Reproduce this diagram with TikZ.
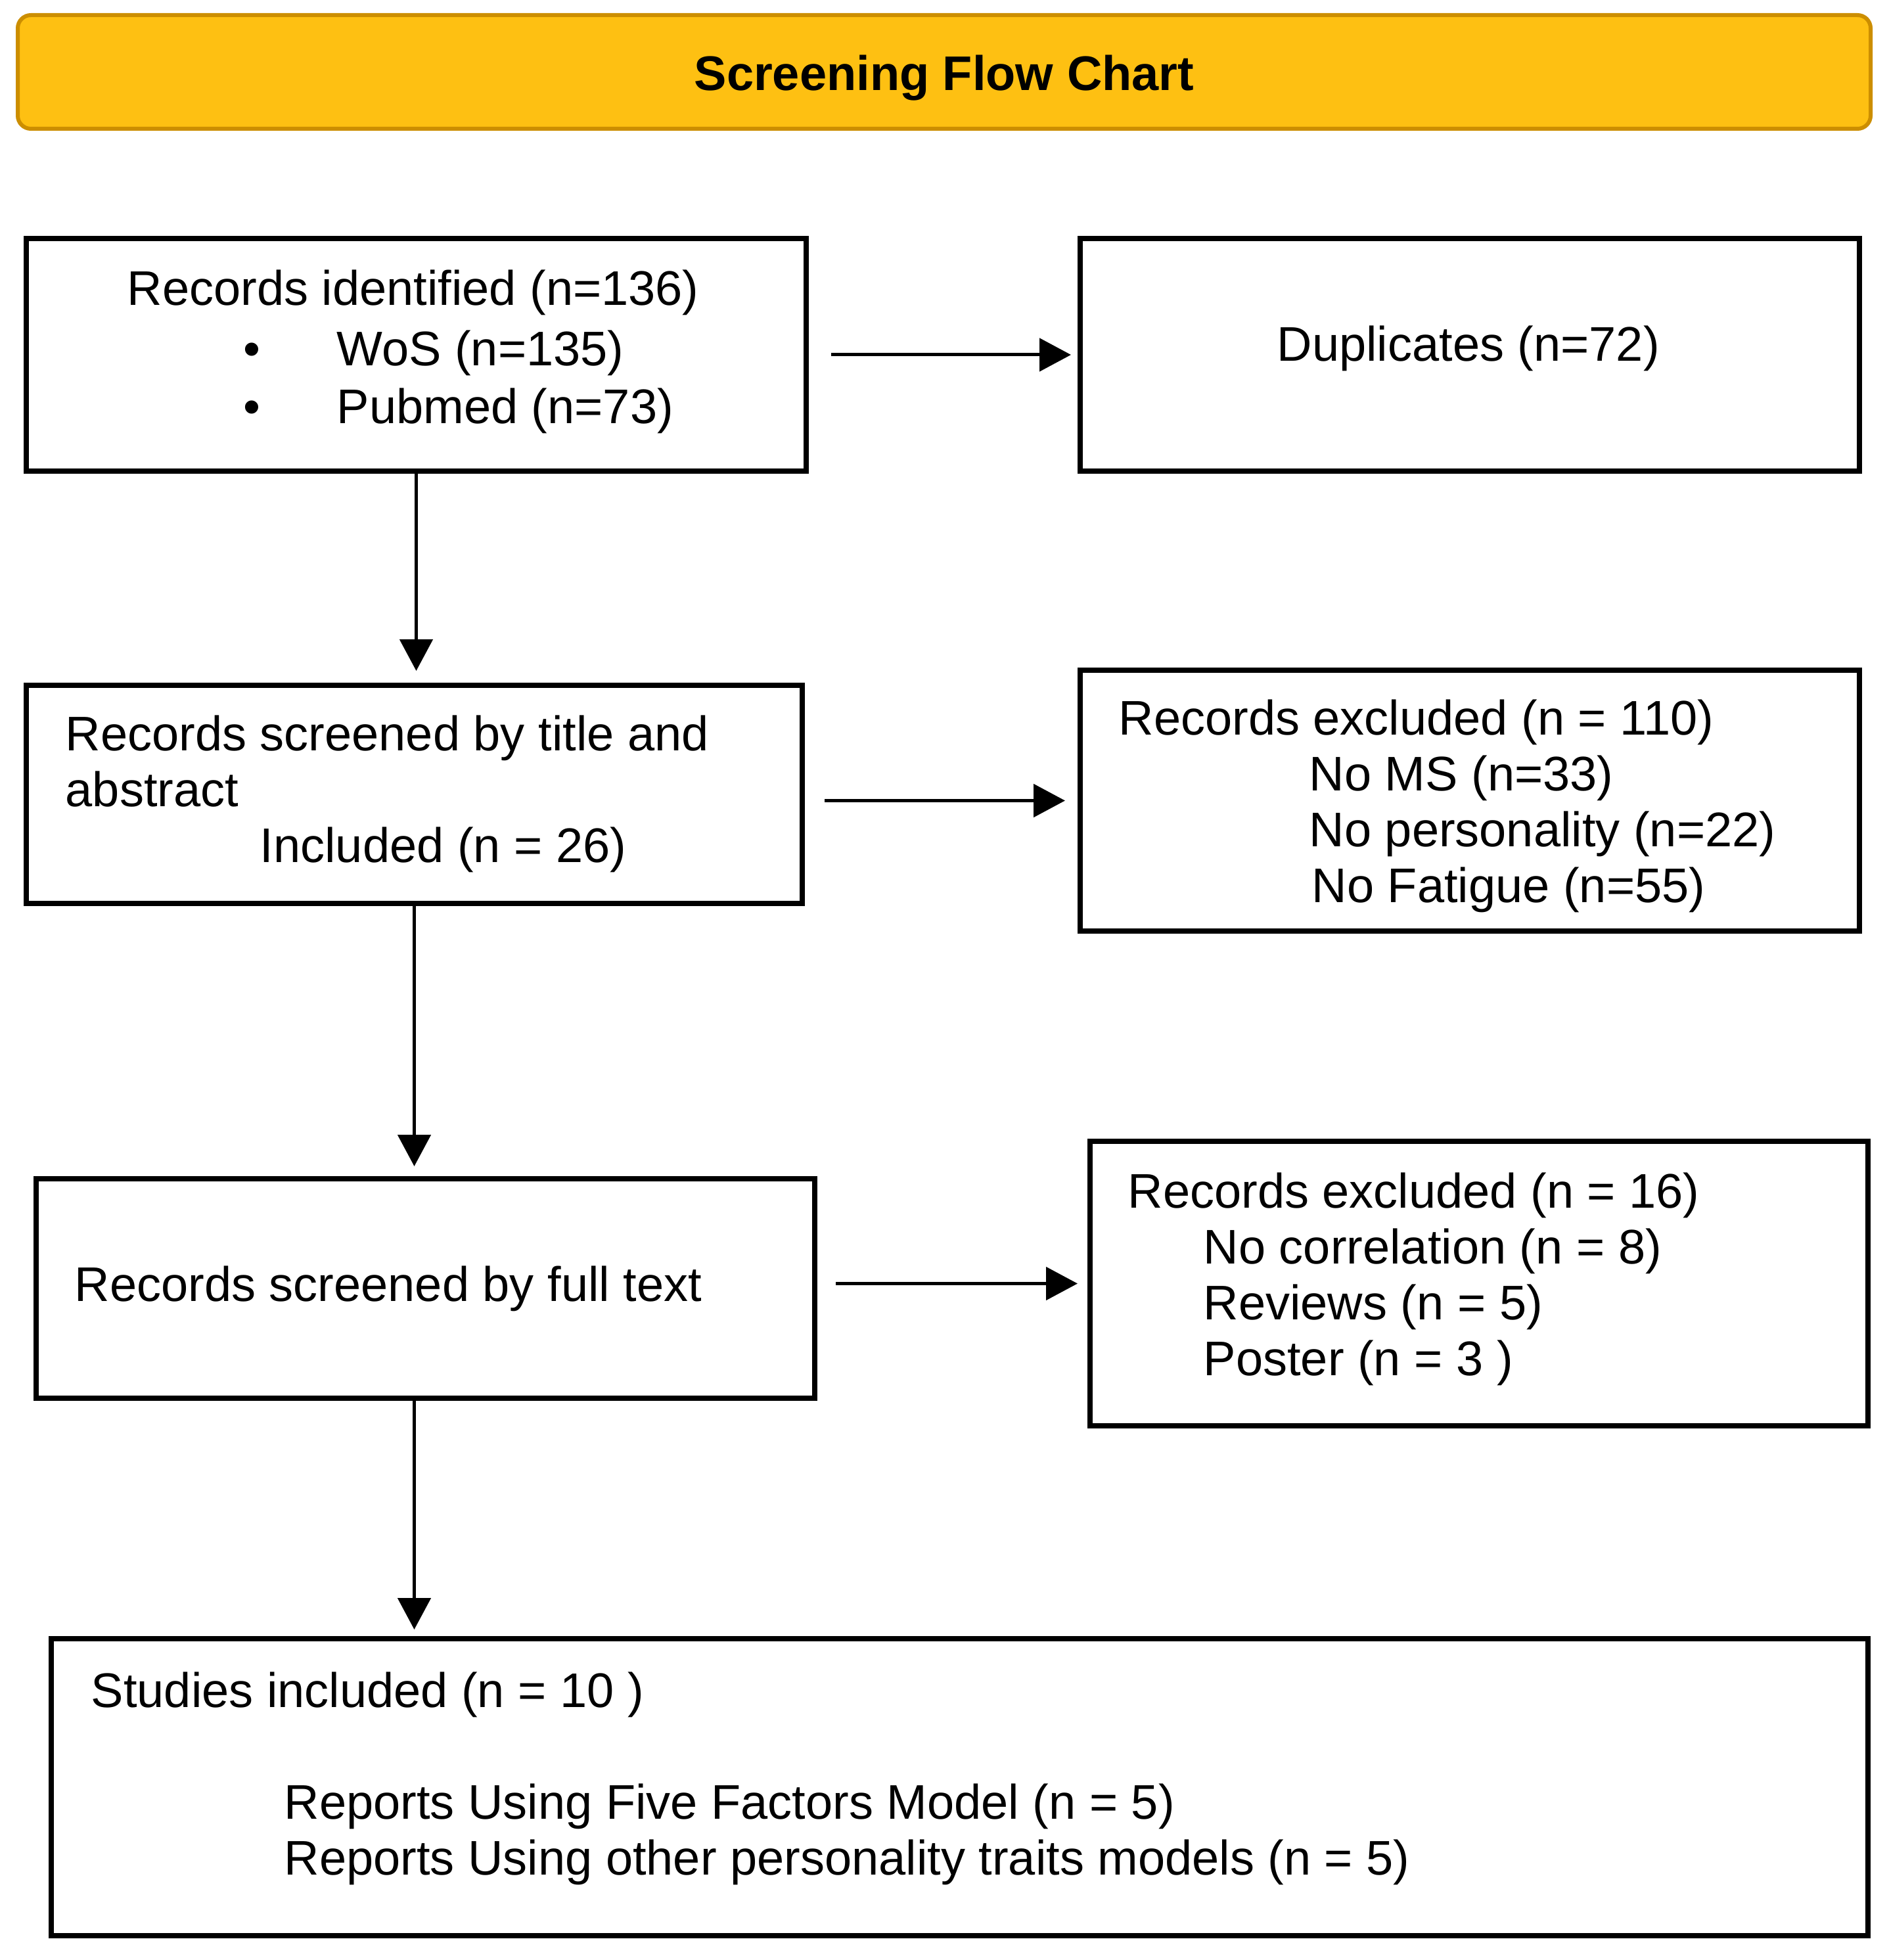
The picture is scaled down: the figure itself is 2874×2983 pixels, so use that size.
\documentclass[tikz,border=0pt]{standalone}
\usepackage{fontspec}
\setmainfont{Liberation Sans}
\usetikzlibrary{arrows.meta,fit,calc}
\definecolor{titlefill}{HTML}{FEC012}
\definecolor{titleedge}{HTML}{CC8E00}
\begin{document}
\begin{tikzpicture}[x=0.25pt,y=-0.25pt,
  box/.style={draw=black,line width=2pt,inner sep=0pt},
  titlebar/.style={draw=titleedge,fill=titlefill,line width=1.5pt,rounded corners=5pt,inner sep=0pt},
  lbl/.style={anchor=base west,inner sep=0pt,font=\fontsize{18.5}{21.25}\selectfont},
  bul/.style={anchor=base,inner sep=0pt,font=\fontsize{18.5}{21.25}\selectfont},
  ttl/.style={anchor=base,inner sep=0pt,font=\fontsize{18.5}{21.25}\selectfont\bfseries},
  arr/.style={-{Triangle[length=12pt,width=12.5pt]},line width=1.25pt}]
\useasboundingbox (0,0) rectangle (2874,2983);
% title bar
\node[titlebar,fit={(27,23) (2847,196)}] (title) {};
\node[ttl] (titletext) at (1437,138) {Screening Flow Chart};
% boxes
\node[box,fit={(40,363) (1227,717)}] (b1) {};
\node[box,fit={(1644,363) (2830,717)}] (dup) {};
\node[box,fit={(40,1043) (1221,1375)}] (b2) {};
\node[box,fit={(1644,1020) (2830,1417)}] (e1) {};
\node[box,fit={(55,1794) (1240,2128)}] (b3) {};
\node[box,fit={(1659,1737) (2843,2170)}] (e2) {};
\node[box,fit={(78,2494) (2843,2946)}] (fin) {};
% texts
\node[lbl] (t1a) at (193,465) {Records identified (n=136)};
\node[bul] (t1b) at (383,557) {•};
\node[lbl] (t1c) at (512,557) {WoS (n=135)};
\node[bul] (t1d) at (383,645) {•};
\node[lbl] (t1e) at (512,645) {Pubmed (n=73)};
\node[lbl] (tdup) at (1943,550) {Duplicates (n=72)};
\node[lbl] (t2a) at (99,1142) {Records screened by title and};
\node[lbl] (t2b) at (99,1227) {abstract};
\node[lbl] (t2c) at (395,1312) {Included (n = 26)};
\node[lbl] (te1a) at (1702,1118) {Records excluded (n = 110)};
\node[lbl] (te1b) at (1992,1203) {No MS (n=33)};
\node[lbl] (te1c) at (1992,1288) {No personality (n=22)};
\node[lbl] (te1d) at (1996,1373) {No Fatigue (n=55)};
\node[lbl] (t3a) at (113,1980) {Records screened by full text};
\node[lbl] (te2a) at (1716,1838) {Records excluded (n = 16)};
\node[lbl] (te2b) at (1831,1923) {No correlation (n = 8)};
\node[lbl] (te2c) at (1831,2008) {Reviews (n = 5)};
\node[lbl] (te2d) at (1831,2093) {Poster (n = 3 )};
\node[lbl] (tfa) at (138,2598) {Studies included (n = 10 )};
\node[lbl] (tfb) at (432,2768) {Reports Using Five Factors Model (n = 5)};
\node[lbl] (tfc) at (432,2853) {Reports Using other personality traits models (n = 5)};
% connectors
\draw[arr,shorten <=8.5pt,shorten >=2.5pt] (b1.east) -- (dup.west);
\draw[arr,shorten <=7.5pt,shorten >=4.75pt] (b2.east |- e1.west) -- (e1.west);
\draw[arr,shorten <=7pt,shorten >=3.75pt] (b3.east |- e2.west) -- (e2.west);
\draw[arr,shorten >=4.5pt] (b1.south) -- (b1.south |- b2.north);
\draw[arr,shorten >=3.75pt] (b2.south) -- (b2.south |- b3.north);
\draw[arr,shorten >=2.5pt] ($(b3.south)+(-17,0)$) -- ($(b3.south |- fin.north)+(-17,0)$);
\end{tikzpicture}
\end{document}
